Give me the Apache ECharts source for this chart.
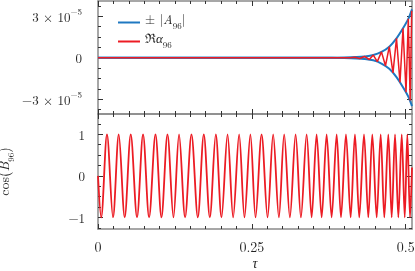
<!DOCTYPE html>
<html><head><meta charset="utf-8">
<script src="https://cdn.jsdelivr.net/npm/echarts@6/dist/echarts.min.js"></script>
<style>html,body{margin:0;padding:0;background:#fff}#c{width:415px;height:271px}</style>
</head><body><div id="c"></div>
<script>
// ---- data ----
const xMajor = [0, 0.25, 0.5];
const xMinor = [0.025,0.05,0.075,0.1,0.125,0.15,0.175,0.2,0.225,0.275,0.3,0.325,0.35,0.375,0.4,0.425,0.45,0.475];
const topYMajor = [-3e-5, 0, 3e-5];
const topYMinor = [-3.75e-5,-2.25e-5,-1.5e-5,-0.75e-5,0.75e-5,1.5e-5,2.25e-5,3.75e-5];
const botYMajor = [-1, 0, 1];
const botYMinor = [-1.25,-0.75,-0.5,-0.25,0.25,0.5,0.75,1.25];

// envelope |A96|
const envTau = [0, 0.30, 0.38, 0.40, 0.42, 0.4330, 0.4473, 0.4606, 0.4733, 0.4850, 0.4956, 0.5042, 0.5102];
const envAbs = [0, 0, 0.05e-6, 0.2e-6, 0.5e-6, 0.9e-6, 1.9e-6, 4.2e-6, 8.0e-6, 1.4e-5, 2.13e-5, 2.81e-5, 3.5e-5];

// Re alpha96 (turning points)
const reTau = [0, 0.41, 0.4175, 0.4250, 0.4330, 0.4408, 0.4473, 0.4538, 0.4606, 0.4671, 0.4733, 0.4793, 0.4850, 0.4907, 0.4956, 0.5005, 0.5042, 0.5072, 0.5097];
const reVal = [0, 0, 0.3e-6, -0.6e-6, 0.9e-6, -1.3e-6, 1.9e-6, -2.8e-6, 4.2e-6, -5.8e-6, 8.0e-6, -1.1e-5, 1.4e-5, -1.78e-5, 2.13e-5, -2.5e-5, 2.81e-5, -3.1e-5, 3.4e-5];

// cos(B96) (turning points)
const cosTau = [0, 0.0052, 0.0146, 0.0244, 0.0337, 0.0434, 0.0532, 0.0634, 0.0732, 0.0830, 0.0934, 0.1031, 0.1129, 0.1226, 0.1317, 0.1415, 0.1519, 0.1622, 0.1719, 0.1817, 0.1914, 0.2007, 0.2105, 0.2196, 0.2293, 0.2380, 0.2476, 0.2560, 0.2658, 0.2755, 0.2846, 0.2939, 0.3025, 0.3118, 0.3211, 0.3297, 0.3390, 0.3471, 0.3552, 0.3634, 0.3715, 0.3796, 0.3878, 0.3948, 0.4029, 0.4105, 0.4175, 0.4245, 0.4322, 0.4392, 0.4457, 0.4528, 0.4593, 0.4652, 0.4717, 0.4772, 0.4826, 0.4880, 0.4935, 0.4984, 0.5026, 0.5070, 0.5102];
const cosVal = [0, -1, 1, -1, 1, -1, 1, -1, 1, -1, 1, -1, 1, -1, 1, -1, 1, -1, 1, -1, 1, -1, 1, -1, 1, -1, 1, -1, 1, -1, 1, -1, 1, -1, 1, -1, 1, -1, 1, -1, 1, -1, 1, -1, 1, -1, 1, -1, 1, -1, 1, -1, 1, -1, 1, -1, 1, -1, 1, -1, 1, -1, 0.2];

// ---- styling ----
const SERIF = "'Latin Modern Roman','CMU Serif','Liberation Serif','DejaVu Serif',serif";
const BLUE = '#1f78c1', RED = '#ec1c24';
const SPINE = '#8a8a8a', TICK = '#333', TXT = '#222';
const X_MIN = 0, X_MAX = 0.5102;
const TOP_MIN = -4.07e-5, TOP_MAX = 4.1e-5;
const BOT_MIN = -1.28, BOT_MAX = 1.49;

const base = {fontFamily: SERIF, fontSize: 13, color: TXT};
const richSup = {
  b: Object.assign({}, base, {lineHeight: 16, verticalAlign: 'bottom'}),
  s: Object.assign({}, base, {fontSize: 9, lineHeight: 9, verticalAlign: 'top'})
};
const richSub = {
  b: Object.assign({}, base, {lineHeight: 17, verticalAlign: 'top'}),
  i: Object.assign({}, base, {lineHeight: 17, verticalAlign: 'top', fontStyle: 'italic'}),
  s: Object.assign({}, base, {fontSize: 9, lineHeight: 9, verticalAlign: 'bottom'})
};

function xAxes(g) {
  const list = [];
  ['bottom', 'top'].forEach(pos => {
    const labels = (g === 1 && pos === 'bottom');
    list.push({
      gridIndex: g, type: 'value', position: pos, min: X_MIN, max: X_MAX,
      axisLine: {show: true, onZero: false, lineStyle: {color: SPINE, width: 1.5}},
      axisTick: {show: true, inside: true, length: 5, customValues: xMajor, lineStyle: {color: TICK, width: 1}},
      axisLabel: {show: labels, customValues: xMajor, margin: 12, fontFamily: SERIF, fontSize: 14, color: TXT},
      splitLine: {show: false},
      name: labels ? 'τ' : '', nameLocation: 'middle', nameGap: 28,
      nameTextStyle: {fontFamily: SERIF, fontSize: 14, fontStyle: 'italic', color: TXT}
    });
    list.push({
      gridIndex: g, type: 'value', position: pos, min: X_MIN, max: X_MAX,
      axisLine: {show: false, onZero: false},
      axisTick: {show: true, inside: true, length: 3, customValues: xMinor, lineStyle: {color: TICK, width: 1}},
      axisLabel: {show: false}, splitLine: {show: false}
    });
  });
  return list;
}

function yAxes(g, min, max, majors, minors, fmt, rich, margin, name) {
  const list = [];
  ['left', 'right'].forEach(pos => {
    const labels = pos === 'left';
    const ax = {
      gridIndex: g, type: 'value', position: pos, min: min, max: max,
      axisLine: {show: true, onZero: false, lineStyle: {color: SPINE, width: 1.5}},
      axisTick: {show: true, inside: true, length: 5, customValues: majors, lineStyle: {color: TICK, width: 1}},
      axisLabel: {show: labels, customValues: majors, formatter: fmt, rich: rich, margin: margin,
                  fontFamily: SERIF, fontSize: 13, color: TXT},
      splitLine: {show: false}
    };
    if (labels && name) {
      ax.name = name; ax.nameLocation = 'middle'; ax.nameRotate = 90; ax.nameGap = 82;
      ax.nameTextStyle = {fontFamily: SERIF, fontSize: 14, color: TXT, rich: {
        b: Object.assign({}, base, {fontSize: 14, lineHeight: 18, verticalAlign: 'top'}),
        i: Object.assign({}, base, {fontSize: 14, lineHeight: 18, verticalAlign: 'top', fontStyle: 'italic'}),
        s: Object.assign({}, base, {fontSize: 9, lineHeight: 9, verticalAlign: 'bottom'})
      }};
    }
    list.push(ax);
    list.push({
      gridIndex: g, type: 'value', position: pos, min: min, max: max,
      axisLine: {show: false, onZero: false},
      axisTick: {show: true, inside: true, length: 3, customValues: minors, lineStyle: {color: TICK, width: 1}},
      axisLabel: {show: false}, splitLine: {show: false}
    });
  });
  return list;
}

const topFmt = v => {
  if (Math.abs(v) < 1e-12) return '{b|0}';
  return '{b|' + (v < 0 ? '−' : '') + '3 × 10}{s|−5}';
};
const botFmt = v => '{b|' + (v < 0 ? '−' + Math.abs(v) : String(v)) + '}';

const xs = [].concat(xAxes(0), xAxes(1));
const ys = [].concat(
  yAxes(0, TOP_MIN, TOP_MAX, topYMajor, topYMinor, topFmt, richSup, 16, null),
  yAxes(1, BOT_MIN, BOT_MAX, botYMajor, botYMinor, botFmt, richSup, 13, '{b|cos(}{i|B}{s|96}{b|)}')
);

const upper = envTau.map((t, i) => [t, envAbs[i]]);
const lower = envTau.map((t, i) => [t, -envAbs[i]]);
const reData = reTau.map((t, i) => [t, reVal[i]]);
const cosData = cosTau.map((t, i) => [t, cosVal[i]]);

const chart = echarts.init(document.getElementById('c'), null, {renderer: 'canvas'});
chart.setOption({
  animation: false,
  backgroundColor: '#fff',
  grid: [
    {left: 98, right: 3, top: 1, height: 113, outerBoundsMode: 'none', containLabel: false},
    {left: 98, right: 3, top: 114, bottom: 42, outerBoundsMode: 'none', containLabel: false}
  ],
  xAxis: xs,
  yAxis: ys,
  legend: {
    left: 113, top: 9, orient: 'vertical', itemWidth: 22, itemHeight: 2, itemGap: 2,
    data: [{name: 'A', icon: 'rect'}, {name: 'alpha', icon: 'rect'}],
    formatter: n => n === 'A' ? '{b|± |}{i|A}{s|96}{b||}' : '{b|ℜ}{i|α}{s|96}',
    textStyle: {fontFamily: SERIF, fontSize: 13, color: TXT, rich: richSub}
  },
  series: [
    {name: 'A', type: 'line', xAxisIndex: 0, yAxisIndex: 0, data: upper, symbol: 'none', smooth: 0.3,
     lineStyle: {color: BLUE, width: 2}, itemStyle: {color: BLUE}},
    {name: 'A', type: 'line', xAxisIndex: 0, yAxisIndex: 0, data: lower, symbol: 'none', smooth: 0.3,
     lineStyle: {color: BLUE, width: 2}, itemStyle: {color: BLUE}},
    {name: 'alpha', type: 'line', xAxisIndex: 0, yAxisIndex: 0, data: reData, symbol: 'none', smooth: false,
     lineStyle: {color: RED, width: 1.5}, itemStyle: {color: RED}},
    {name: 'cos', type: 'line', xAxisIndex: 4, yAxisIndex: 4, data: cosData, symbol: 'none', smooth: 0.33,
     lineStyle: {color: RED, width: 1.8}, itemStyle: {color: RED}}
  ]
});
</script></body></html>
